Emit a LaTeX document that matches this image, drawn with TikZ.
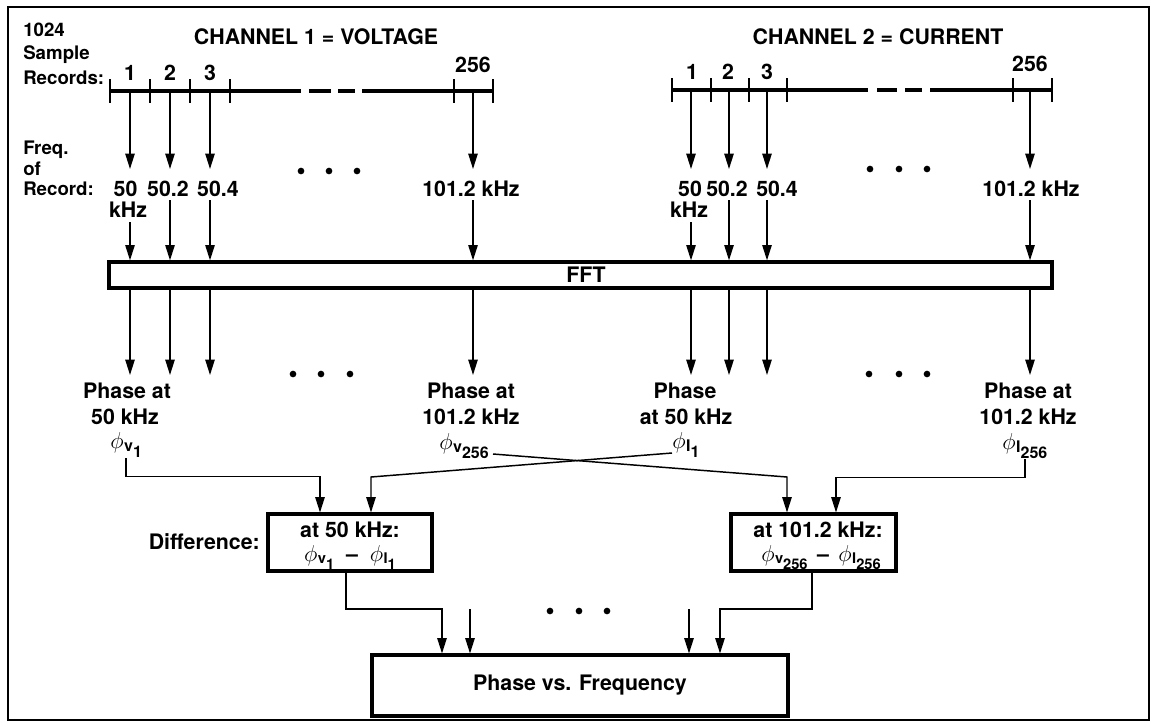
\documentclass[tikz,border=0pt]{standalone}
\usepackage{fontspec}
\setmainfont{TeX Gyre Heros}
\usetikzlibrary{arrows.meta,calc}
\newcommand{\phisub}[2]{$\phi$\kern0.4pt\raisebox{-0.3ex}{\fontsize{12}{12}\selectfont #1}\raisebox{-0.85ex}{\fontsize{12}{12}\selectfont #2}}
\newcommand{\phisubs}[2]{$\phi$\kern0.3pt\raisebox{-0.25ex}{\fontsize{11}{11}\selectfont #1}\raisebox{-0.7ex}{\fontsize{11}{11}\selectfont #2}}
\begin{document}
\begin{tikzpicture}[x=0.75pt,y=-0.75pt,
  lbl/.style={font=\fontsize{16}{19}\selectfont\bfseries, inner sep=0pt, anchor=base},
  side/.style={font=\fontsize{14}{16}\selectfont\bfseries, inner sep=0pt, anchor=base west},
  arr/.style={line width=1.1pt, -{Triangle[length=11.5pt,width=7pt]}},
  tline/.style={line width=2.8pt},
  tickl/.style={line width=2pt},
  fbox/.style={draw, line width=2.4pt, inner sep=0pt},
  dbox/.style={draw, line width=3pt, inner sep=0pt},
  dotn/.style={circle, fill, inner sep=0pt, minimum size=5pt}
]
\useasboundingbox (0,0) rectangle (1152,725);
\draw[line width=1.6pt] (8,7) rectangle (1149,720);

% side labels
\node[side] (s1) at (23,36) {1024};
\node[side] (s2) at (23,59) {Sample};
\node[side] (s3) at (23,84) {Records:};
\node[side] (s4) at (23,154) {Freq.};
\node[side] (s5) at (23,175) {of};
\node[side] (s6) at (23,195) {Record:};

% titles
\node[lbl] (t1) at (316,44) {CHANNEL 1 = VOLTAGE};
\node[lbl] (t2) at (878,44) {CHANNEL 2 = CURRENT};

% timelines
\draw[tline] (110,91) -- (301,91) (309,91) -- (331,91) (338,91) -- (355,91) (362,91) -- (493,91);
\foreach \x in {110,150,190,230,454,493} \draw[tickl] (\x,79) -- (\x,103);
\draw[tline] (672,90) -- (868,90) (877,90) -- (897,90) (905,90) -- (922,90) (930,90) -- (1052,90);
\foreach \x in {672,711,749,787,1013,1052} \draw[tickl] (\x,78) -- (\x,102);

% record numbers
\node[lbl] (nL1) at (130,80) {1};
\node[lbl] (nL2) at (170,80) {2};
\node[lbl] (nL3) at (210,80) {3};
\node[lbl] (nL4) at (473,72) {256};
\node[lbl] (nR1) at (692,79) {1};
\node[lbl] (nR2) at (728,79) {2};
\node[lbl] (nR3) at (767,79) {3};
\node[lbl] (nR4) at (1030,71) {256};

% frequency labels
\node[lbl] (fL1) at (125.5,196) {50};
\node[lbl] (kL1) at (128,217) {kHz};
\node[lbl] (fL2) at (168,196) {50.2};
\node[lbl] (fL3) at (218,196) {50.4};
\node[lbl] (fL4) at (471,196) {101.2 kHz};
\node[lbl] (fR1) at (690,196) {50};
\node[lbl] (kR1) at (689,217) {kHz};
\node[lbl] (fR2) at (727,196) {50.2};
\node[lbl] (fR3) at (777,196) {50.4};
\node[lbl] (fR4) at (1031,196) {101.2 kHz};

% FFT
\node[fbox, minimum width=707.25pt, minimum height=19.5pt] (fft) at (580.5,275) {};
\node[lbl] (fftt) at (586,282) {FFT};

% columns of arrows
\foreach \n/\x/\s in {L1/130/222,L2/170/200,L3/210/200,L4/473/200,R1/691/222,R2/729/200,R3/767/200,R4/1030/200} {
  \coordinate (tl\n) at (\x,91);
  \coordinate (fq\n) at (\x,169);
  \coordinate (u\n) at (\x,\s);
  \coordinate (p\n) at (\x,375);
  \draw[arr] (tl\n) -- (fq\n);
  \draw[arr] (u\n) -- (u\n |- fft.north);
  \draw[arr] (u\n |- fft.south) -- (p\n);
}

% dots
\foreach \i/\x/\y in {1/301/171,2/329/171,3/357/171,4/870/169,5/899/169,6/927/169,
  7/293/374,8/321/374,9/350/374,10/869/374,11/899/374,12/927/374,13/550/611,14/579/611,15/607/611}
  \node[dotn] (dt\i) at (\x,\y) {};

% phase labels
\node[lbl] (aL1) at (127,398) {Phase at};
\node[lbl] (bL1) at (125,424) {50 kHz};
\node[lbl, anchor=base west] (pv1) at (110,448) {\phisub{v}{1}};
\node[lbl] (aL4) at (471,398) {Phase at};
\node[lbl] (bL4) at (471,424) {101.2 kHz};
\node[lbl, anchor=base west] (pv256) at (439,449) {\phisub{v}{256}};
\node[lbl] (aR1) at (685,398) {Phase};
\node[lbl] (bR1) at (686,424) {at 50 kHz};
\node[lbl, anchor=base west] (pI1) at (672,448) {\phisub{I}{1}};
\node[lbl] (aR4) at (1028,398) {Phase at};
\node[lbl] (bR4) at (1028,424) {101.2 kHz};
\node[lbl, anchor=base west] (pI256) at (1002,449) {\phisub{I}{256}};

% difference boxes
\node[dbox, minimum width=123pt, minimum height=42.75pt] (dL) at (350,542.5) {};
\node[dbox, minimum width=123.75pt, minimum height=42.75pt] (dR) at (813.5,542.5) {};
\node[lbl] (dLt) at (350,537) {at 50 kHz:};
\node[lbl] (dLf) at (350,561) {\phisubs{v}{1}\ \ --\ \ \phisubs{I}{1}};
\node[lbl] (dRt) at (818,537) {at 101.2 kHz:};
\node[lbl] (dRf) at (821,561) {\phisubs{v}{256}\,\ --\ \,\phisubs{I}{256}};
\node[lbl, anchor=base east] (dif) at (260,549) {Difference:};

% connectors into difference boxes
\coordinate (dLa) at (320,512.5);
\coordinate (dLb) at (371,512.5);
\coordinate (dRa) at (787,512.5);
\coordinate (dRb) at (836,512.5);
\coordinate (xA) at (493,454);
\coordinate (kA) at (787,477);
\coordinate (xB) at (672,453);
\coordinate (kB) at (371,477);
\draw[arr] (pv1.south) |- ($(dLa)+(0,-36)$) -- (dLa);
\draw[arr] (xA) -- (kA) -- (dRa);
\draw[arr] (xB) -- (kB) -- (dLb);
\draw[arr] (pI256.south) |- ($(dRb)+(0,-35)$) -- (dRb);

% final box
\node[dbox, minimum width=312pt, minimum height=45.75pt, font=\fontsize{16}{19}\selectfont\bfseries] (pvf) at (580,685.5) {Phase vs. Frequency};
\coordinate (pa) at (442,653.5);
\coordinate (pb) at (470,653.5);
\coordinate (pc) at (689,653.5);
\coordinate (pd) at (720,653.5);
\coordinate (pbs) at (470,609);
\coordinate (pcs) at (689,609);
\draw[arr] ($(dL.south)+(-4,0)$) |- ($(pa)+(0,-44.5)$) -- (pa);
\draw[arr] (pbs) -- (pb);
\draw[arr] (pcs) -- (pc);
\draw[arr] ($(dR.south)+(-1.5,0)$) |- ($(pd)+(0,-44.5)$) -- (pd);
\end{tikzpicture}
\end{document}
